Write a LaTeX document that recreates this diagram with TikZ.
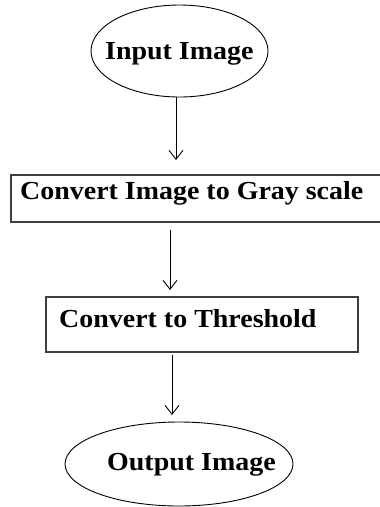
\documentclass[tikz,border=0pt]{standalone}
\usepackage{fontspec}
\setmainfont[FakeStretch=1.075]{Liberation Serif}
\usetikzlibrary{shapes.geometric,arrows.meta}
\begin{document}
\begin{tikzpicture}[x=1pt,y=-1pt,
  oval/.style={ellipse,draw=black,line width=0.9pt,inner sep=0pt},
  box/.style={rectangle,draw=black!75,line width=1.6pt,inner sep=0pt},
  lbl/.style={font=\fontsize{26}{30}\selectfont\bfseries,inner sep=0pt,text=black},
  arr/.style={draw=black,line width=0.9pt,-{Straight Barb[length=9pt,width=14pt,line width=0.9pt]}}]
\useasboundingbox (0,0) rectangle (380,507);
\clip (0,0) rectangle (380,507);
% nodes
\node[oval,minimum width=177pt,minimum height=92pt] (in) at (179.5,51) {};
\node[lbl,anchor=base west] (tin) at (105,59) {Input Image};
\node[box,minimum width=380pt,minimum height=47pt,anchor=north west] (r1) at (10,174) {};
\node[lbl,anchor=base west] (t1) at (20,199) {Convert Image to Gray scale};
\node[box,minimum width=312pt,minimum height=55pt,anchor=north west] (r2) at (45,296) {};
\node[lbl,anchor=base west] (t2) at (59,327) {Convert to Threshold};
\node[oval,minimum width=228pt,minimum height=84pt] (out) at (179,464) {};
\node[lbl,anchor=base west] (tout) at (107,470) {Output Image};
% connectors
\coordinate (e1) at (176,160);
\coordinate (s2) at (170,230);
\coordinate (e2) at (170,290);
\coordinate (s3) at (172,355);
\coordinate (e3) at (172,415);
\draw[arr] (in.south -| e1) -- (e1);
\draw[arr] (s2) -- (e2);
\draw[arr] (s3) -- (e3);
\end{tikzpicture}
\end{document}
